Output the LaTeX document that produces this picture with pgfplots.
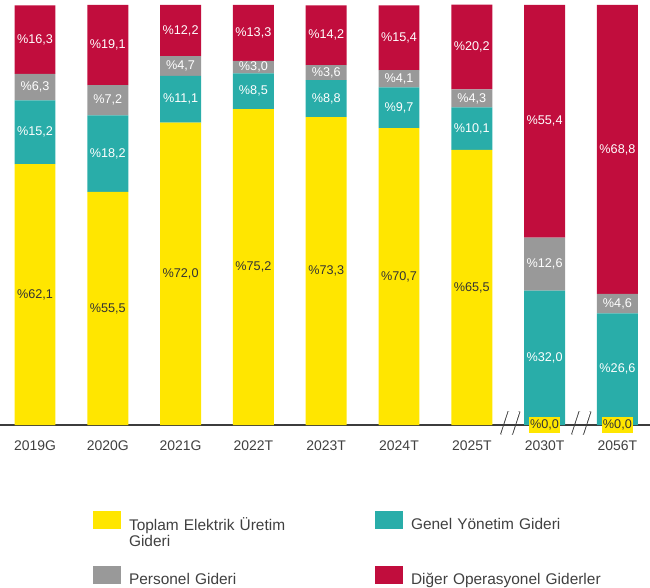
\documentclass[border=0pt]{standalone}
\usepackage{fontspec}
\setmainfont{Liberation Sans}
\newfontfamily\legfont{Liberation Sans}
\protected\def\legsetup{\legfont\fontsize{15.5}{16}\selectfont\spaceskip 8.8bp plus 1bp minus 1bp\relax}
\usepackage{pgfplots}
\usepackage{pgfplotstable}
\pgfplotsset{compat=1.18}
\pgfkeys{/pgf/number format/assume math mode=true}
\definecolor{eyyellow}{HTML}{FFE600}
\definecolor{eyteal}{HTML}{29ADA9}
\definecolor{eygray}{HTML}{999999}
\definecolor{eyred}{HTML}{C10D3D}
\definecolor{axisgray}{HTML}{3C3C3C}
\definecolor{txtgray}{HTML}{404040}
\definecolor{lbldark}{HTML}{333333}

\pgfplotstableread{
x yel tea gry red
0 62.1 15.2 6.3 16.3
1 55.5 18.2 7.2 19.1
2 72.0 11.1 4.7 12.2
3 75.2 8.5 3.0 13.3
4 73.3 8.8 3.6 14.2
5 70.7 9.7 4.1 15.4
6 65.5 10.1 4.3 20.2
7 0.0 32.0 12.6 55.4
8 0.0 26.6 4.6 68.8
}\datatable

\pgfplotsset{
  lbl/.style 2 args={
    point meta=\thisrow{#1},
    nodes near coords={\%\pgfmathprintnumber[fixed,fixed zerofill,precision=1,use comma]{\pgfplotspointmeta}},
    every node near coord/.style={anchor=center, font=\fontsize{12.7}{15}\selectfont, text=#2, inner sep=0pt},
  },
  lblbox/.style={
    point meta=\thisrow{#1},
    nodes near coords={\%\pgfmathprintnumber[fixed,fixed zerofill,precision=1,use comma]{\pgfplotspointmeta}},
    every node near coord/.style={anchor=center, font=\fontsize{12.7}{15}\selectfont, text=lbldark, fill=eyyellow, inner xsep=1bp, inner ysep=2.5bp},
  },
  sq/.style={legend image code/.code={\fill[##1] (0bp,-4bp) rectangle (28bp,14bp);}},
}
\newcommand\brk[1]{%
  \fill[white] ([xshift=-9bp,yshift=-9.5bp]axis cs:#1,0) -- ([xshift=-1.5bp,yshift=13.5bp]axis cs:#1,0) -- ([xshift=9.5bp,yshift=13.5bp]axis cs:#1,0) -- ([xshift=2bp,yshift=-9.5bp]axis cs:#1,0) -- cycle;
  \draw[axisgray,line width=1.8bp] ([xshift=-9bp,yshift=-9.5bp]axis cs:#1,0) -- ([xshift=-1.5bp,yshift=13.5bp]axis cs:#1,0);
  \draw[axisgray,line width=1.8bp] ([xshift=2bp,yshift=-9.5bp]axis cs:#1,0) -- ([xshift=9.5bp,yshift=13.5bp]axis cs:#1,0);}

\begin{document}
\begin{tikzpicture}
\useasboundingbox (0,-163bp) rectangle (650bp,425bp);
\begin{axis}[
  at={(0,0)}, anchor=south west,
  scale only axis, width=650bp, height=425bp,
  xmin=-0.4808, xmax=8.4478, ymin=0, ymax=101.19,
  clip=false,
  ybar stacked, bar width=0.563,
  axis line style={draw=none},
  ytick=\empty,
  xtick={0,...,8},
  xticklabels={2019G,2020G,2021G,2022T,2023T,2024T,2025T,2030T,2056T},
  major tick length=0pt,
  xtick style={draw=none},
  xticklabel style={font=\fontsize{14}{16}\selectfont, text=txtgray, inner sep=0pt, yshift=-15.5bp},
  legend columns=2,
  legend cell align=left,
  legend style={at={(0.1431,-0.2024)}, anchor=north west, draw=none, fill=none,
    inner sep=0pt, outer sep=0pt,
    nodes={inner sep=0pt, text width=220bp, align=left, font=\legsetup, text=txtgray},
    column sep=8bp,
    /tikz/every even column/.append style={column sep=26bp},
    row sep=33.4bp},
]
\addplot[fill=eyyellow, draw=none, sq] table[x=x,y=yel]{\datatable};
\addlegendentry{Toplam Elektrik Üretim\\Gideri}
\addplot[fill=eyteal, draw=none, sq, lbl={tea}{white}] table[x=x,y=tea]{\datatable};
\addlegendentry{Genel Yönetim Gideri}
\addplot[fill=eygray, draw=none, sq, lbl={gry}{white}] table[x=x,y=gry]{\datatable};
\addlegendentry{Personel Gideri}
\addplot[fill=eyred, draw=none, sq, lbl={red}{white}] table[x=x,y=red]{\datatable};
\addlegendentry{Diğer Operasyonel Giderler}
\draw[axisgray, line width=2.2bp] (rel axis cs:0,0) -- (rel axis cs:1,0);
\brk{6.525}
\brk{7.5}
\addplot[stack plots=false, draw=none, fill=none, forget plot, lbl={yel}{lbldark}, restrict x to domain=0:6] table[x=x,y=yel]{\datatable};
\addplot[stack plots=false, draw=none, fill=none, forget plot, lblbox=yel, restrict x to domain=7:8] table[x=x,y=yel]{\datatable};
\end{axis}
\end{tikzpicture}
\end{document}
